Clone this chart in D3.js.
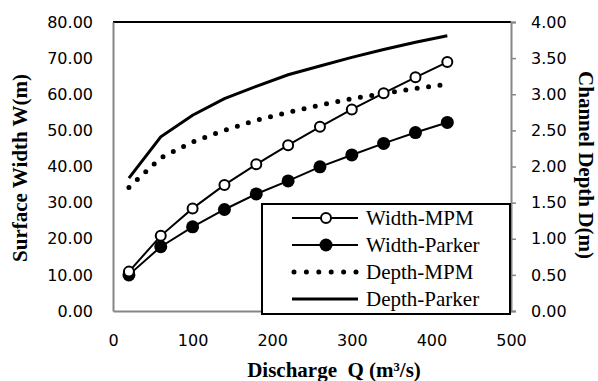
<!DOCTYPE html>
<html>
<head>
<meta charset="utf-8">
<script src="https://cdn.jsdelivr.net/npm/d3@7"></script>
<style>
  body { margin: 0; background: #fff; }
  .tick text { font-family: "DejaVu Sans", sans-serif; font-size: 16px; fill: #000; }
  .title { font-family: "Liberation Serif", serif; font-weight: bold; font-size: 21px; fill: #000; white-space: pre; }
  .leg text { font-family: "Liberation Serif", serif; font-size: 21px; fill: #000; }
</style>
</head>
<body>
<svg id="chart" width="598" height="381"></svg>
<script>
// discharge Q (m3/s)
var discharge = [20, 60, 100, 140, 180, 220, 260, 300, 340, 380, 420];
var widthMPM = [10.9, 20.8, 28.4, 34.9, 40.6, 45.9, 51.0, 55.8, 60.3, 64.7, 68.9];
var widthParker = [10.0, 17.8, 23.3, 28.1, 32.4, 36.0, 39.9, 43.2, 46.4, 49.4, 52.2];
var depthMPM = [1.71, 2.12, 2.34, 2.50, 2.64, 2.75, 2.85, 2.94, 3.01, 3.08, 3.14];
var depthParker = [1.84, 2.41, 2.71, 2.94, 3.11, 3.27, 3.39, 3.51, 3.62, 3.72, 3.81];
var xTicks = [0, 100, 200, 300, 400, 500];
var yLeftTicks = [0, 10, 20, 30, 40, 50, 60, 70, 80];
var yRightTicks = [0, 0.5, 1, 1.5, 2, 2.5, 3, 3.5, 4];
var legendNames = ["Width-MPM", "Width-Parker", "Depth-MPM", "Depth-Parker"];

var svg = d3.select("#chart");
var m = {left: 113, right: 511, top: 22, bottom: 311};

var x = d3.scaleLinear().domain([0, 500]).range([m.left, m.right]);
var yL = d3.scaleLinear().domain([0, 80]).range([m.bottom, m.top]);
var yR = d3.scaleLinear().domain([0, 4]).range([m.bottom, m.top]);

var axisColor = "#868686";

// top border of plot area
svg.append("line")
  .attr("x1", m.left).attr("x2", m.right)
  .attr("y1", m.top).attr("y2", m.top)
  .attr("stroke", "#000").attr("stroke-width", 2);

// axes
var gx = svg.append("g").attr("transform", "translate(0," + m.bottom + ")")
  .call(d3.axisBottom(x).tickValues(xTicks).tickSize(0).tickPadding(24).tickFormat(d3.format("d")));
var gl = svg.append("g").attr("transform", "translate(" + m.left + ",0)")
  .call(d3.axisLeft(yL).tickValues(yLeftTicks).tickSize(0).tickPadding(20).tickFormat(d3.format(".2f")));
var gr = svg.append("g").attr("transform", "translate(" + m.right + ",0)")
  .call(d3.axisRight(yR).tickValues(yRightTicks).tickSize(5).tickPadding(15).tickFormat(d3.format(".2f")));
[gx, gl, gr].forEach(function(g) {
  g.select(".domain").attr("stroke", axisColor).attr("stroke-width", 2);
  g.selectAll(".tick line").attr("stroke", axisColor).attr("stroke-width", 1.5);
});

var lineL = function(vals) {
  return d3.line().x(function(d, i) { return x(discharge[i]); }).y(function(d) { return yL(d); })(vals);
};
var lineR = function(vals) {
  return d3.line().x(function(d, i) { return x(discharge[i]); }).y(function(d) { return yR(d); })(vals);
};

// depth lines (secondary axis)
svg.append("path").attr("d", lineR(depthParker))
  .attr("fill", "none").attr("stroke", "#000").attr("stroke-width", 3);
svg.append("path").attr("d", lineR(depthMPM))
  .attr("fill", "none").attr("stroke", "#000").attr("stroke-width", 5)
  .attr("stroke-linecap", "round").attr("stroke-dasharray", "0 11.5");

// width lines
svg.append("path").attr("d", lineL(widthParker))
  .attr("fill", "none").attr("stroke", "#000").attr("stroke-width", 2);
svg.selectAll(".pk").data(widthParker).enter().append("circle")
  .attr("cx", function(d, i) { return x(discharge[i]); })
  .attr("cy", function(d) { return yL(d); })
  .attr("r", 6.5).attr("fill", "#000");

svg.append("path").attr("d", lineL(widthMPM))
  .attr("fill", "none").attr("stroke", "#000").attr("stroke-width", 2);
svg.selectAll(".mp").data(widthMPM).enter().append("circle")
  .attr("cx", function(d, i) { return x(discharge[i]); })
  .attr("cy", function(d) { return yL(d); })
  .attr("r", 5).attr("fill", "#fff").attr("stroke", "#000").attr("stroke-width", 2);

// legend
var leg = svg.append("g").attr("class", "leg");
leg.append("rect").attr("x", 262).attr("y", 204).attr("width", 248).attr("height", 110)
  .attr("fill", "#fff").attr("stroke", "#000").attr("stroke-width", 2);
var rowY = [218, 245, 272, 299];
legendNames.forEach(function(name, i) {
  var yy = rowY[i];
  var ln = leg.append("line").attr("x1", 292).attr("x2", 358).attr("y1", yy).attr("y2", yy)
    .attr("stroke", "#000");
  if (i < 2) ln.attr("stroke-width", 2);
  if (i === 2) ln.attr("x1", 294).attr("x2", 356).attr("stroke-width", 5)
    .attr("stroke-linecap", "round").attr("stroke-dasharray", "0 12.4");
  if (i === 3) ln.attr("stroke-width", 3);
  if (i === 0) leg.append("circle").attr("cx", 326).attr("cy", yy).attr("r", 5)
    .attr("fill", "#fff").attr("stroke", "#000").attr("stroke-width", 2);
  if (i === 1) leg.append("circle").attr("cx", 326).attr("cy", yy).attr("r", 6.5).attr("fill", "#000");
  leg.append("text").attr("x", 366).attr("y", yy).attr("dy", "0.33em").text(name);
});

// axis titles
svg.append("text").attr("class", "title").attr("text-anchor", "middle")
  .attr("transform", "translate(27,168) rotate(-90)").text("Surface Width W(m)");
svg.append("text").attr("class", "title").attr("text-anchor", "middle")
  .attr("transform", "translate(579,165) rotate(90)").text("Channel Depth D(m)");
svg.append("text").attr("class", "title").attr("text-anchor", "middle")
  .attr("x", 334).attr("y", 377).text("Discharge  Q (m\u00b3/s)");
</script>
</body>
</html>
